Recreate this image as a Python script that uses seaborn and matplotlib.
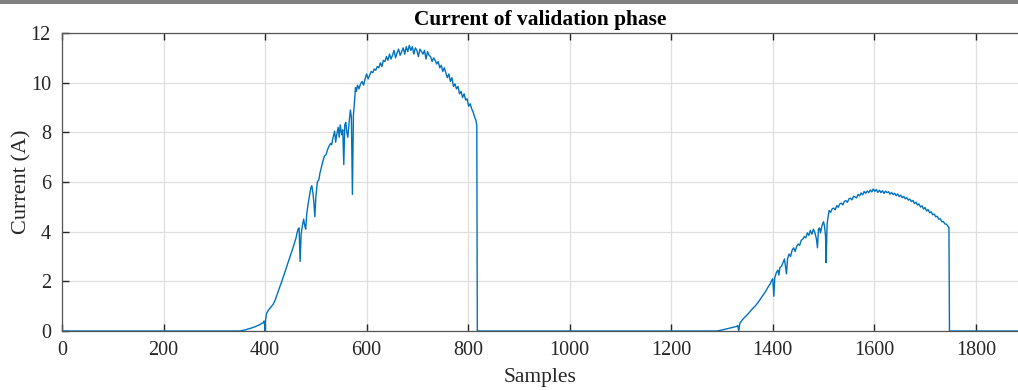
import numpy as np
import pandas as pd
import matplotlib
matplotlib.use("Agg")
import matplotlib.pyplot as plt
from matplotlib.patches import Rectangle
import seaborn as sns

# ---- data ----
idle_start_samples = [0, 350]
idle_start_current = [0.0, 0.0]

hump1_samples = [360, 370, 380, 388, 393, 396, 398, 399, 400, 401, 403, 407, 412, 416, 420, 425, 429, 433, 437,
                 442, 446, 450, 455, 458, 461, 463, 465, 467, 469, 471, 474, 476, 478, 480, 482, 485, 488, 490,
                 492, 494, 496, 498, 500, 503, 506, 508, 511, 514, 517, 520, 523, 526, 529, 531, 534, 537, 539,
                 541, 544, 546, 548, 551, 553, 555, 557, 559, 561, 563, 566, 568, 570, 572, 574, 576, 578, 580,
                 582, 585, 588, 591, 594, 597, 600, 603, 606, 609, 612, 615, 618, 621, 624, 627, 630, 633, 636,
                 639, 642, 645, 648, 651, 654, 657, 660, 663, 666, 669, 672, 675, 678, 681, 684, 687, 690, 693,
                 696, 699, 702, 705, 708, 711, 714, 717, 720, 723, 726, 729, 732, 735, 738, 741, 744, 747, 750,
                 753, 756, 759, 762, 765, 768, 771, 774, 777, 780, 783, 786, 789, 792, 795, 798, 801, 804, 807,
                 810, 813, 815, 817, 818]
hump1_current = [0.04, 0.10, 0.17, 0.24, 0.30, 0.33, 0.40, 0.25, 0.00, 0.45, 0.72, 0.85, 0.98, 1.08, 1.25, 1.55,
                 1.78, 2.00, 2.25, 2.55, 2.80, 3.05, 3.35, 3.55, 3.75, 3.95, 4.10, 4.15, 2.80, 3.90, 4.30, 4.50,
                 4.25, 4.10, 4.70, 5.15, 5.50, 5.75, 5.85, 5.60, 5.20, 4.60, 5.40, 6.00, 6.10, 6.35, 6.60, 6.85,
                 7.05, 7.10, 7.30, 7.45, 7.55, 7.50, 7.80, 8.05, 7.60, 7.90, 8.20, 7.80, 8.30, 7.90, 8.10, 6.70,
                 8.30, 8.40, 8.00, 7.80, 8.50, 8.90, 8.60, 5.50, 8.70, 9.20, 9.80, 9.65, 9.90, 9.75, 9.95, 10.05,
                 9.90, 10.15, 10.35, 10.15, 10.30, 10.45, 10.40, 10.55, 10.50, 10.65, 10.60, 10.80, 10.65, 10.90,
                 10.85, 11.05, 10.90, 11.15, 10.95, 11.10, 11.30, 11.00, 11.20, 11.35, 11.10, 11.25, 11.40, 11.15,
                 11.45, 11.25, 11.50, 11.30, 11.45, 11.15, 11.40, 11.30, 11.05, 11.35, 11.25, 11.15, 11.30, 10.95,
                 11.25, 11.10, 11.05, 10.85, 11.00, 10.90, 10.75, 10.85, 10.60, 10.70, 10.45, 10.60, 10.40, 10.20,
                 10.35, 10.05, 10.20, 9.85, 9.95, 9.75, 9.85, 9.55, 9.65, 9.40, 9.55, 9.30, 9.35, 9.05, 9.15, 8.95,
                 8.80, 8.60, 8.50, 8.30, 0.00]

idle_mid_samples = [1290]
idle_mid_current = [0.0]

hump2_samples = [1300, 1310, 1320, 1328, 1331, 1333, 1335, 1340, 1346, 1351, 1356, 1361, 1366, 1371, 1376, 1381,
                 1386, 1391, 1395, 1398, 1400, 1402, 1404, 1407, 1410, 1412, 1414, 1417, 1420, 1423, 1425, 1427,
                 1429, 1432, 1435, 1438, 1441, 1444, 1447, 1450, 1453, 1456, 1459, 1462, 1465, 1468, 1471, 1474,
                 1477, 1480, 1483, 1486, 1488, 1490, 1492, 1494, 1497, 1500, 1502, 1504, 1505, 1507, 1509, 1511,
                 1514, 1517, 1520, 1523, 1526, 1529, 1532, 1535, 1538, 1541, 1544, 1547, 1550, 1553, 1556, 1559,
                 1562, 1565, 1568, 1571, 1574, 1577, 1580, 1583, 1586, 1589, 1592, 1595, 1598, 1601, 1604, 1607,
                 1610, 1613, 1616, 1619, 1622, 1625, 1628, 1631, 1634, 1637, 1640, 1643, 1646, 1649, 1652, 1655,
                 1658, 1661, 1664, 1667, 1670, 1673, 1676, 1679, 1682, 1685, 1688, 1691, 1694, 1697, 1700, 1703,
                 1706, 1709, 1712, 1715, 1718, 1721, 1724, 1727, 1730, 1733, 1736, 1739, 1742, 1745, 1747, 1748]
hump2_current = [0.04, 0.09, 0.14, 0.18, 0.22, 0.00, 0.30, 0.45, 0.58, 0.68, 0.80, 0.92, 1.02, 1.15, 1.30, 1.45,
                 1.60, 1.78, 1.90, 2.05, 2.10, 1.40, 2.15, 2.35, 2.45, 2.25, 2.55, 2.60, 2.75, 2.90, 2.60, 2.30,
                 2.90, 3.10, 3.00, 3.25, 3.35, 3.20, 3.40, 3.50, 3.45, 3.65, 3.70, 3.80, 3.75, 3.95, 3.85, 4.05,
                 3.90, 4.10, 3.95, 3.70, 3.35, 4.10, 4.15, 3.95, 4.25, 4.40, 4.20, 3.80, 2.75, 4.30, 4.60, 4.85,
                 4.78, 4.92, 4.95, 4.88, 5.05, 4.98, 5.12, 5.15, 5.08, 5.22, 5.25, 5.18, 5.32, 5.35, 5.28, 5.42,
                 5.40, 5.36, 5.50, 5.44, 5.56, 5.48, 5.62, 5.54, 5.64, 5.57, 5.68, 5.60, 5.72, 5.62, 5.70, 5.58,
                 5.67, 5.57, 5.65, 5.54, 5.63, 5.57, 5.61, 5.51, 5.58, 5.49, 5.55, 5.45, 5.52, 5.41, 5.47, 5.37,
                 5.42, 5.32, 5.37, 5.27, 5.31, 5.21, 5.26, 5.13, 5.19, 5.07, 5.12, 4.99, 5.04, 4.91, 4.97, 4.83,
                 4.89, 4.76, 4.80, 4.68, 4.71, 4.60, 4.62, 4.50, 4.52, 4.40, 4.41, 4.31, 4.30, 4.22, 4.18, 0.00]

idle_end_samples = [1885]
idle_end_current = [0.0]

x_ticks = [0, 200, 400, 600, 800, 1000, 1200, 1400, 1600, 1800]
y_ticks = [0, 2, 4, 6, 8, 10, 12]

samples = idle_start_samples + hump1_samples + idle_mid_samples + hump2_samples + idle_end_samples
current = idle_start_current + hump1_current + idle_mid_current + hump2_current + idle_end_current
df = pd.DataFrame({"Samples": samples, "Current": current})

# ---- style ----
sns.set_theme(style="whitegrid")
plt.rcParams["font.family"] = ["Liberation Serif", "DejaVu Serif"]

W, H = 1018, 390
fig = plt.figure(figsize=(W / 100, H / 100), dpi=100)
fig.patch.set_facecolor("white")
ax = fig.add_axes([62 / W, (H - 331) / H, (W - 62) / W, (331 - 33) / H])

sns.lineplot(data=df, x="Samples", y="Current", ax=ax, estimator=None, sort=False,
             color="#0072BD", linewidth=1.0)

ax.set_xlim(0, 1883)
ax.set_ylim(0, 12)
ax.set_xticks(x_ticks)
ax.set_yticks(y_ticks)
ax.set_xticklabels([str(v) for v in x_ticks])
ax.set_yticklabels([str(v) for v in y_ticks])

ax.grid(True, color="#dfdfdf", linewidth=0.9)
ax.set_axisbelow(True)
for side in ["left", "top", "bottom"]:
    ax.spines[side].set_visible(True)
    ax.spines[side].set_color("#555555")
    ax.spines[side].set_linewidth(0.9)
ax.spines["right"].set_visible(False)

ax.tick_params(axis="both", which="both", direction="in", length=5, width=1.0,
               color="#262626", labelsize=14.5, labelcolor="#262626")
ax.tick_params(axis="x", top=True, bottom=True, pad=7)
ax.tick_params(axis="y", left=True, right=False, pad=8)

ax.set_xlabel("Samples", fontsize=15.5, color="#262626", labelpad=6)
ax.set_ylabel("Current (A)", fontsize=16, color="#262626")
ax.yaxis.set_label_coords(-0.032, 0.5)
ax.set_title("Current of validation phase", fontsize=15.4, fontweight="bold", color="black", pad=6)

# gray band at top of figure
fig.patches.append(Rectangle((0, 1 - 4 / H), 1, 4 / H, transform=fig.transFigure,
                             facecolor="#808080", edgecolor="none", zorder=10))

fig.savefig("out.png", dpi=100)
